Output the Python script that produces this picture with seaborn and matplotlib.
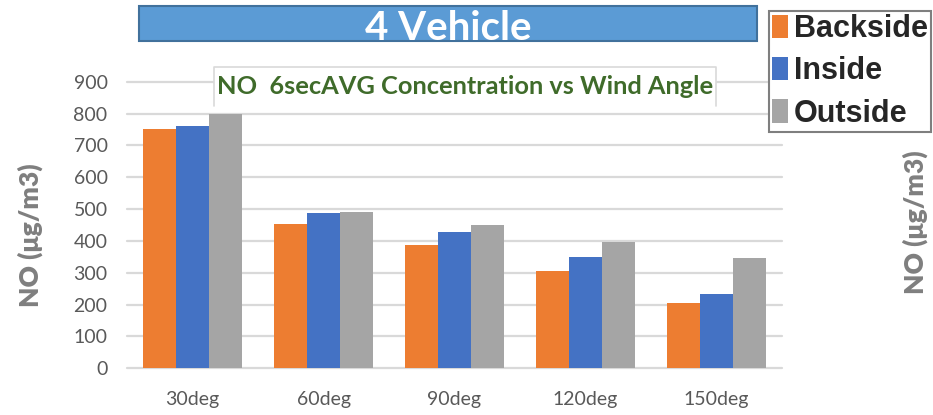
import matplotlib
matplotlib.use("Agg")
import matplotlib.pyplot as plt
from matplotlib.patches import Rectangle
from matplotlib.lines import Line2D
import pandas as pd
import seaborn as sns

# Data
angles = ["30deg", "60deg", "90deg", "120deg", "150deg"]
positions = ["Backside", "Inside", "Outside"]
backside = [750, 452, 387, 305, 206]
inside = [760, 488, 428, 350, 233]
outside = [798, 491, 449, 397, 347]
y_ticks = [0, 100, 200, 300, 400, 500, 600, 700, 800, 900]

banner_text = "4 Vehicle"
title_text = "NO  6secAVG Concentration vs Wind Angle"
y_label = "NO (\u03bcg/m3)"

colors = ["#ed7d31", "#4472c4", "#a5a5a5"]

df = pd.DataFrame({
    "angle": angles * 3,
    "position": [p for p in positions for _ in angles],
    "value": backside + inside + outside,
})

sns.set_theme(style="white")
plt.rcParams["font.family"] = ["Lato", "DejaVu Sans"]

W, H = 933, 415
fig = plt.figure(figsize=(W / 100, H / 100), dpi=100)
fig.patch.set_facecolor("white")


def fx(px):
    return px / W


def fy(py):
    return 1 - py / H


left, right, top, bottom = 127, 782, 81.7, 368.3
ax = fig.add_axes([fx(left), fy(bottom), (right - left) / W, (bottom - top) / H])

sns.barplot(data=df, x="angle", y="value", hue="position", hue_order=positions,
            order=angles, palette=colors, saturation=1, width=0.75,
            linewidth=0, ax=ax)

ax.set_ylim(0, 900)
ax.set_xlim(-0.5, len(angles) - 0.5)
ax.set_yticks(y_ticks)
ax.set_xlabel("")
ax.set_ylabel("")
for s in ax.spines.values():
    s.set_visible(False)
ax.set_axisbelow(True)
ax.yaxis.grid(True, color="#d9d9d9", linewidth=1.6)
ax.xaxis.grid(False)
for gl in ax.get_ygridlines():
    gl.set_clip_on(False)
ax.tick_params(axis="both", length=0, labelsize=14, labelcolor="#595959")
ax.tick_params(axis="y", pad=14)
ax.tick_params(axis="x", pad=16)

# legend
handles, labels = ax.get_legend_handles_labels()
if ax.get_legend() is not None:
    ax.get_legend().remove()
leg = fig.legend(handles, labels, loc="upper left",
                 bbox_to_anchor=(fx(769), fy(11)), bbox_transform=fig.transFigure,
                 frameon=True, fancybox=False, framealpha=1, edgecolor="#7f7f7f",
                 prop={"family": "Liberation Sans", "weight": "bold", "size": 22},
                 handlelength=0.52, handleheight=0.8, handletextpad=0.2,
                 labelspacing=0.4, borderpad=0.1, borderaxespad=0)
leg.get_frame().set_linewidth(1.5)

# banner
fig.patches.append(Rectangle((fx(139), fy(41)), (757 - 139) / W, (41 - 6) / H,
                             transform=fig.transFigure, facecolor="#5b9bd5",
                             edgecolor="#41719c", linewidth=1.5, zorder=3))
fig.text(fx(448), fy(28), banner_text, color="white", fontsize=29,
         fontweight="bold", ha="center", va="center", zorder=4)

# chart title box
fig.patches.append(Rectangle((fx(214), fy(106)), (716 - 214) / W, (106 - 67) / H,
                             transform=fig.transFigure, facecolor="white",
                             edgecolor="none", zorder=3))
for xs, ys in [([214, 214, 716, 716], [106, 67, 67, 106])]:
    fig.lines.append(Line2D([fx(x) for x in xs], [fy(y) for y in ys],
                            transform=fig.transFigure, color="#d9d9d9",
                            linewidth=1.2, zorder=3.5))
fig.text(fx(465), fy(87), title_text, color="#3f6b2a", fontsize=18.3,
         fontweight="bold", ha="center", va="center", zorder=4)

# axis labels
fig.text(fx(30), fy(235), y_label, rotation=90, color="#7f7f7f", fontsize=19,
         fontweight="heavy", ha="center", va="center")
fig.text(fx(915), fy(222), y_label, rotation=90, color="#7f7f7f", fontsize=19,
         fontweight="heavy", ha="center", va="center")

fig.savefig("out.png", dpi=100)
